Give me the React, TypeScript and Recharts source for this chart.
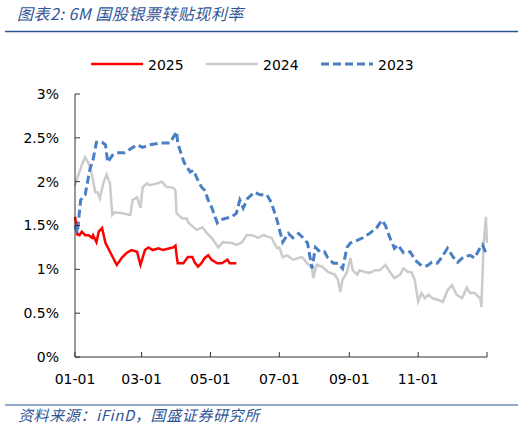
import { Line, LineChart, XAxis, YAxis } from "recharts";

// day of year (0 = 01-01) and 6M rate in %
const days2025 = [0, 1, 2, 4, 6, 9, 12, 15, 16, 19, 21, 24, 27, 31, 37, 42, 46, 50, 55, 58, 62, 65, 69, 74, 78, 84, 87, 89, 90, 91, 96, 100, 104, 106, 109, 112, 115, 118, 121, 126, 130, 135, 137, 143];
const rate2025 = [1.6, 1.52, 1.4, 1.39, 1.43, 1.39, 1.39, 1.36, 1.39, 1.31, 1.43, 1.47, 1.3, 1.2, 1.05, 1.14, 1.19, 1.22, 1.2, 1.05, 1.22, 1.25, 1.22, 1.24, 1.22, 1.24, 1.25, 1.27, 1.16, 1.07, 1.07, 1.14, 1.14, 1.08, 1.03, 1.07, 1.13, 1.16, 1.11, 1.07, 1.07, 1.11, 1.07, 1.07];

const days2024 = [0, 1, 6, 9, 12, 15, 18, 20, 22, 25, 28, 31, 33, 35, 42, 49, 51, 55, 58, 60, 64, 66, 73, 77, 81, 87, 89, 90, 95, 99, 100, 105, 108, 113, 117, 121, 127, 131, 139, 143, 148, 152, 157, 162, 167, 171, 174, 179, 181, 184, 188, 193, 198, 201, 205, 210, 211, 214, 219, 224, 230, 233, 235, 237, 241, 244, 246, 250, 252, 257, 261, 266, 270, 275, 279, 283, 288, 291, 295, 298, 301, 304, 307, 310, 313, 317, 322, 326, 330, 334, 338, 343, 347, 350, 354, 359, 360, 362, 364, 365];
const rate2024 = [1.95, 2.0, 2.19, 2.28, 2.21, 2.08, 1.88, 1.88, 1.81, 1.98, 2.08, 1.98, 1.62, 1.65, 1.64, 1.62, 1.79, 1.82, 1.7, 1.94, 1.98, 1.96, 1.98, 2.0, 1.94, 1.93, 1.9, 1.64, 1.58, 1.58, 1.54, 1.48, 1.45, 1.48, 1.41, 1.36, 1.25, 1.31, 1.3, 1.28, 1.31, 1.39, 1.39, 1.36, 1.39, 1.37, 1.36, 1.24, 1.25, 1.14, 1.16, 1.11, 1.13, 1.14, 1.08, 1.01, 0.9, 1.05, 1.03, 0.97, 0.94, 0.88, 0.74, 0.88, 0.97, 1.13, 0.99, 0.94, 0.99, 0.97, 0.96, 0.99, 0.99, 1.05, 0.97, 0.9, 0.94, 1.01, 0.97, 0.97, 0.88, 0.63, 0.73, 0.67, 0.71, 0.67, 0.65, 0.63, 0.76, 0.82, 0.71, 0.67, 0.79, 0.73, 0.73, 0.67, 0.57, 1.28, 1.6, 1.3];

const days2023 = [0, 2, 5, 9, 13, 16, 19, 24, 27, 29, 33, 37, 44, 50, 55, 60, 66, 75, 84, 90, 91, 95, 97, 102, 105, 108, 112, 115, 118, 121, 126, 128, 133, 139, 143, 146, 149, 153, 159, 164, 170, 174, 179, 182, 184, 189, 193, 198, 202, 206, 210, 213, 217, 221, 224, 229, 233, 237, 241, 244, 250, 255, 261, 267, 272, 275, 279, 283, 286, 291, 297, 301, 307, 312, 316, 321, 325, 330, 335, 339, 344, 350, 354, 359, 361, 365];
const rate2023 = [1.5, 1.41, 1.79, 1.85, 2.13, 2.25, 2.45, 2.45, 2.42, 2.22, 2.3, 2.33, 2.33, 2.38, 2.42, 2.39, 2.42, 2.44, 2.44, 2.57, 2.44, 2.28, 2.21, 2.11, 2.13, 2.04, 1.94, 1.9, 1.79, 1.71, 1.53, 1.56, 1.58, 1.6, 1.64, 1.79, 1.7, 1.81, 1.88, 1.85, 1.85, 1.76, 1.56, 1.41, 1.31, 1.41, 1.36, 1.41, 1.36, 1.3, 1.01, 1.25, 1.2, 1.2, 1.13, 1.07, 1.07, 1.01, 1.25, 1.3, 1.33, 1.36, 1.41, 1.47, 1.56, 1.5, 1.36, 1.24, 1.28, 1.19, 1.2, 1.11, 1.04, 1.04, 1.08, 1.07, 1.14, 1.24, 1.14, 1.08, 1.14, 1.16, 1.13, 1.25, 1.28, 1.16];

const xTicks = [0, 59, 120, 181, 243, 304, 365];
const xLabels = ["01-01", "03-01", "05-01", "07-01", "09-01", "11-01", ""];
const yTicks = [0, 0.5, 1, 1.5, 2, 2.5, 3];

const toPoints = (days: number[], rates: number[]) => days.map((d, i) => ({ day: d, rate: rates[i] }));

const series = [
  { name: "2025", data: toPoints(days2025, rate2025), color: "#ff0000", width: 2.5, dash: undefined },
  { name: "2024", data: toPoints(days2024, rate2024), color: "#cbcbcb", width: 2.5, dash: undefined },
  { name: "2023", data: toPoints(days2023, rate2023), color: "#4a7fc5", width: 3, dash: "8 4" },
];

const axisFont = { fontFamily: "DejaVu Sans", fontSize: 14, fill: "#000" };
const blue = "#2f5597";

export default function App() {
  return (
    <div style={{ position: "absolute", left: 0, top: 0, width: 526, height: 430, background: "#fff" }}>
      <svg width={526} height={430} style={{ position: "absolute", left: 0, top: 0 }}>
        <text x={17} y={20} fill={blue} fontSize={16} fontStyle="italic" fontFamily="Noto Sans CJK SC" letterSpacing={0.5}>
          图表2:  6M 国股银票转贴现利率
        </text>
        <line x1={5} x2={518} y1={31.5} y2={31.5} stroke={blue} strokeWidth={1.5} />
        <line x1={5} x2={518} y1={405} y2={405} stroke={blue} strokeWidth={1.2} />
        <text x={18} y={421} fill={blue} fontSize={15} fontStyle="italic" fontFamily="Noto Sans CJK SC" letterSpacing={0.6}>
          资料来源：iFinD，国盛证券研究所
        </text>
        {series.map((s, i) => (
          <g key={s.name}>
            <line x1={91 + i * 115} x2={143 + i * 115} y1={64} y2={64} stroke={s.color} strokeWidth={s.width} strokeDasharray={s.dash} />
            <text x={148 + i * 115} y={69.5} fontSize={14} fontFamily="DejaVu Sans" fill="#000">
              {s.name}
            </text>
          </g>
        ))}
      </svg>
      <div style={{ position: "absolute", left: 0, top: 0 }}>
        <LineChart width={526} height={430} margin={{ top: 94, right: 39, bottom: 43, left: 0 }}>
          <XAxis
            dataKey="day"
            type="number"
            domain={[0, 365]}
            ticks={xTicks}
            tickFormatter={(v: number) => xLabels[xTicks.indexOf(v)] ?? ""}
            interval={0}
            height={30}
            tickSize={-5}
            tickMargin={22}
            tick={axisFont}
            stroke="#333"
            allowDuplicatedCategory={false}
          />
          <YAxis
            type="number"
            domain={[0, 3]}
            ticks={yTicks}
            tickFormatter={(v: number) => `${v}%`}
            width={75}
            tickSize={-5}
            tickMargin={21}
            tick={axisFont}
            stroke="#333"
          />
          {series.map((s) => (
            <Line
              key={s.name}
              data={s.data}
              dataKey="rate"
              name={s.name}
              stroke={s.color}
              strokeWidth={s.width}
              strokeDasharray={s.dash}
              dot={false}
              activeDot={false}
              type="linear"
              isAnimationActive={false}
            />
          ))}
        </LineChart>
      </div>
    </div>
  );
}
